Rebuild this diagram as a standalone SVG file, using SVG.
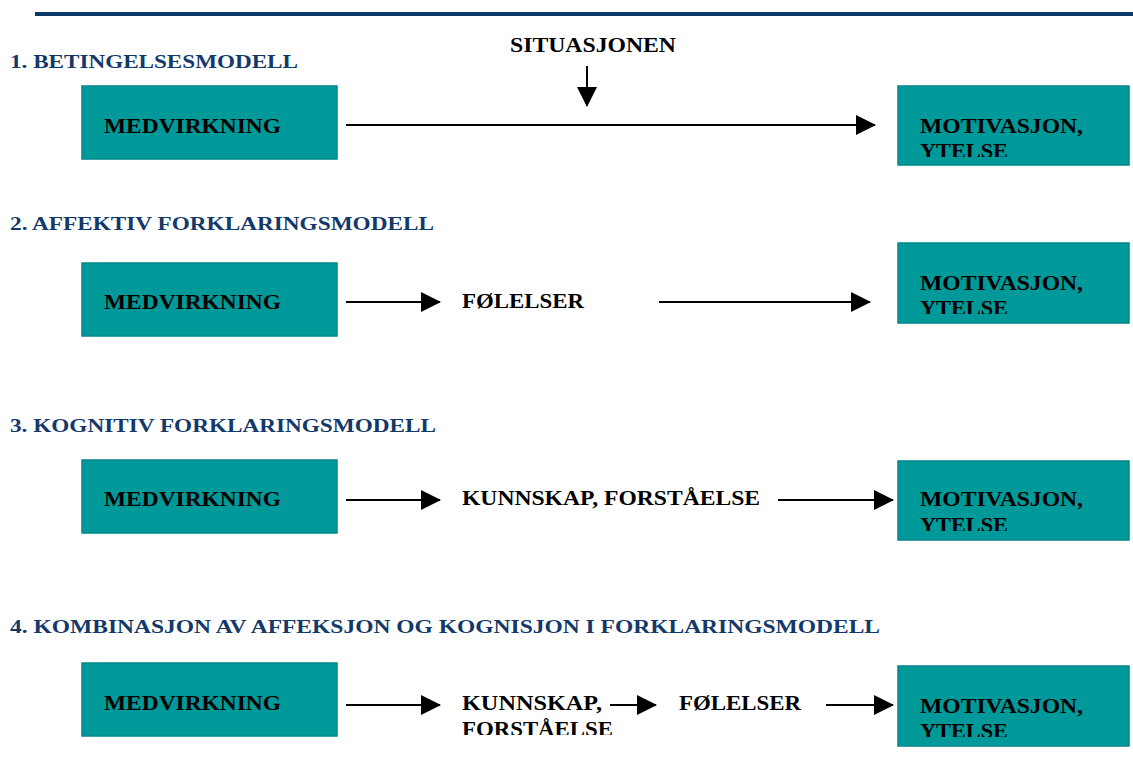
<svg xmlns="http://www.w3.org/2000/svg" width="1133" height="767" viewBox="0 0 1133 767">
<style>
.bg{fill:#ffffff}
.box{fill:#009999;stroke:#00878A;stroke-width:1.5}
.t{font-family:"Liberation Serif","Times New Roman",serif;font-weight:bold;font-size:20px;fill:#000000}
.h{font-family:"Liberation Serif","Times New Roman",serif;font-weight:bold;font-size:19px;fill:#13396A}
.c{stroke:#000000;stroke-width:2;fill:none}
</style>
<defs>
<marker id="ah" markerUnits="userSpaceOnUse" markerWidth="20" markerHeight="20" refX="19" refY="10" orient="auto">
<path d="M0,0 L20,10 L0,20 Z" fill="#000000"/>
</marker>
<clipPath id="c1"><rect x="900" y="88" width="228" height="69"/></clipPath>
<clipPath id="c2"><rect x="900" y="245" width="228" height="69"/></clipPath>
<clipPath id="c3"><rect x="900" y="463" width="228" height="68"/></clipPath>
<clipPath id="c4"><rect x="900" y="668" width="228" height="69"/></clipPath>
<clipPath id="c5"><rect x="455" y="680" width="200" height="55"/></clipPath>
</defs>
<rect class="bg" width="1133" height="767"/>
<line x1="35" y1="14" x2="1133" y2="14" stroke="#0B3A6A" stroke-width="4"/>

<g id="headings">
<text class="h" x="10" y="68" textLength="288" lengthAdjust="spacingAndGlyphs">1. BETINGELSESMODELL</text>
<text class="h" x="10" y="230" textLength="424" lengthAdjust="spacingAndGlyphs">2. AFFEKTIV FORKLARINGSMODELL</text>
<text class="h" x="10" y="432" textLength="426" lengthAdjust="spacingAndGlyphs">3. KOGNITIV FORKLARINGSMODELL</text>
<text class="h" x="10" y="633" textLength="870" lengthAdjust="spacingAndGlyphs">4. KOMBINASJON AV AFFEKSJON OG KOGNISJON I FORKLARINGSMODELL</text>
</g>

<g id="row1">
<g id="medvirkning1"><rect class="box" x="82" y="86" width="255" height="73"/><text class="t" x="104" y="133" textLength="177" lengthAdjust="spacingAndGlyphs">MEDVIRKNING</text></g>
<g id="situasjonen"><text class="t" x="510" y="52" textLength="166" lengthAdjust="spacingAndGlyphs">SITUASJONEN</text></g>
<g id="motivasjon1"><rect class="box" x="898" y="86" width="231" height="79"/><g clip-path="url(#c1)"><text class="t" x="920" y="133" textLength="163" lengthAdjust="spacingAndGlyphs">MOTIVASJON,</text><text class="t" x="920" y="158" textLength="88" lengthAdjust="spacingAndGlyphs">YTELSE</text></g></g>
</g>

<g id="row2">
<g id="medvirkning2"><rect class="box" x="82" y="263" width="255" height="73"/><text class="t" x="104" y="309" textLength="177" lengthAdjust="spacingAndGlyphs">MEDVIRKNING</text></g>
<g id="folelser2"><text class="t" x="462" y="308" textLength="122" lengthAdjust="spacingAndGlyphs">FØLELSER</text></g>
<g id="motivasjon2"><rect class="box" x="898" y="243" width="231" height="80"/><g clip-path="url(#c2)"><text class="t" x="920" y="290" textLength="163" lengthAdjust="spacingAndGlyphs">MOTIVASJON,</text><text class="t" x="920" y="315" textLength="88" lengthAdjust="spacingAndGlyphs">YTELSE</text></g></g>
</g>

<g id="row3">
<g id="medvirkning3"><rect class="box" x="82" y="460" width="255" height="73"/><text class="t" x="104" y="506" textLength="177" lengthAdjust="spacingAndGlyphs">MEDVIRKNING</text></g>
<g id="kunnskap3"><text class="t" x="462" y="505" textLength="298" lengthAdjust="spacingAndGlyphs">KUNNSKAP, FORSTÅELSE</text></g>
<g id="motivasjon3"><rect class="box" x="898" y="461" width="231" height="79"/><g clip-path="url(#c3)"><text class="t" x="920" y="506" textLength="163" lengthAdjust="spacingAndGlyphs">MOTIVASJON,</text><text class="t" x="920" y="532" textLength="88" lengthAdjust="spacingAndGlyphs">YTELSE</text></g></g>
</g>

<g id="row4">
<g id="medvirkning4"><rect class="box" x="82" y="663" width="255" height="73"/><text class="t" x="104" y="710" textLength="177" lengthAdjust="spacingAndGlyphs">MEDVIRKNING</text></g>
<g id="kunnskap4"><g clip-path="url(#c5)"><text class="t" x="462" y="710" textLength="140" lengthAdjust="spacingAndGlyphs">KUNNSKAP,</text><text class="t" x="462" y="736" textLength="151" lengthAdjust="spacingAndGlyphs">FORSTÅELSE</text></g></g>
<g id="folelser4"><text class="t" x="679" y="710" textLength="122" lengthAdjust="spacingAndGlyphs">FØLELSER</text></g>
<g id="motivasjon4"><rect class="box" x="898" y="666" width="231" height="80"/><g clip-path="url(#c4)"><text class="t" x="920" y="713" textLength="163" lengthAdjust="spacingAndGlyphs">MOTIVASJON,</text><text class="t" x="920" y="738" textLength="88" lengthAdjust="spacingAndGlyphs">YTELSE</text></g></g>
</g>

<g id="connectors">
<line class="c" x1="346" y1="125" x2="875" y2="125" marker-end="url(#ah)"/>
<line class="c" x1="587" y1="66" x2="587" y2="106" marker-end="url(#ah)"/>
<line class="c" x1="346" y1="302" x2="440" y2="302" marker-end="url(#ah)"/>
<line class="c" x1="659" y1="302" x2="870" y2="302" marker-end="url(#ah)"/>
<line class="c" x1="346" y1="500" x2="440" y2="500" marker-end="url(#ah)"/>
<line class="c" x1="778" y1="500" x2="893" y2="500" marker-end="url(#ah)"/>
<line class="c" x1="346" y1="705" x2="440" y2="705" marker-end="url(#ah)"/>
<line class="c" x1="610" y1="705" x2="656" y2="705" marker-end="url(#ah)"/>
<line class="c" x1="826" y1="705" x2="893" y2="705" marker-end="url(#ah)"/>
</g>
</svg>
